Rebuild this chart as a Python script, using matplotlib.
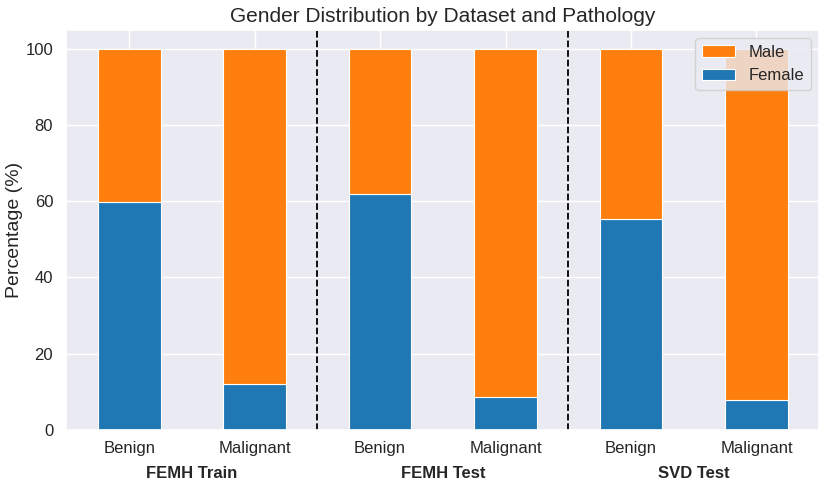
import matplotlib
matplotlib.use("Agg")
from matplotlib import pyplot as plt
import numpy as np
import seaborn as sns

sns.set_theme(style="darkgrid")
plt.rcParams['font.family'] = ['Liberation Sans', 'DejaVu Sans']

datasets = ['FEMH Train', 'FEMH Test', 'SVD Test']
pathologies = ['Benign', 'Malignant']
female = [59.7, 12.1, 61.9, 8.7, 55.3, 7.9]
male = [100 - f for f in female]

x = np.arange(len(female))
tick_labels = pathologies * len(datasets)

fig, ax = plt.subplots(figsize=(8.3, 4.84), dpi=100)
fig.subplots_adjust(left=0.08, right=0.987, top=0.938, bottom=0.112)

ax.bar(x, female, width=0.5, color='#1f77b4', label='Female', edgecolor='white', linewidth=0.8)
ax.bar(x, male, width=0.5, bottom=female, color='#ff7f0e', label='Male', edgecolor='white', linewidth=0.8)

for sep in [1.5, 3.5]:
    ax.axvline(sep, color='black', linestyle='--', linewidth=1.3)

ax.set_xticks(x)
ax.set_xticklabels(tick_labels, fontsize=12)
ax.tick_params(axis='y', labelsize=12)
ax.tick_params(axis='x', pad=2)
ax.set_xlim(-0.5, 5.5)
ax.set_ylim(0, 105)

for i, name in enumerate(datasets):
    ax.text(2 * i + 0.5, -0.09, name, transform=ax.get_xaxis_transform(),
            ha='center', va='top', fontsize=12, fontweight='bold')

ax.set_ylabel('Percentage (%)', fontsize=14, labelpad=2)
ax.set_title('Gender Distribution by Dataset and Pathology', fontsize=15)

handles, labels = ax.get_legend_handles_labels()
ax.legend(handles[::-1], labels[::-1], loc='upper right', fontsize=12)

fig.savefig('out.png')
